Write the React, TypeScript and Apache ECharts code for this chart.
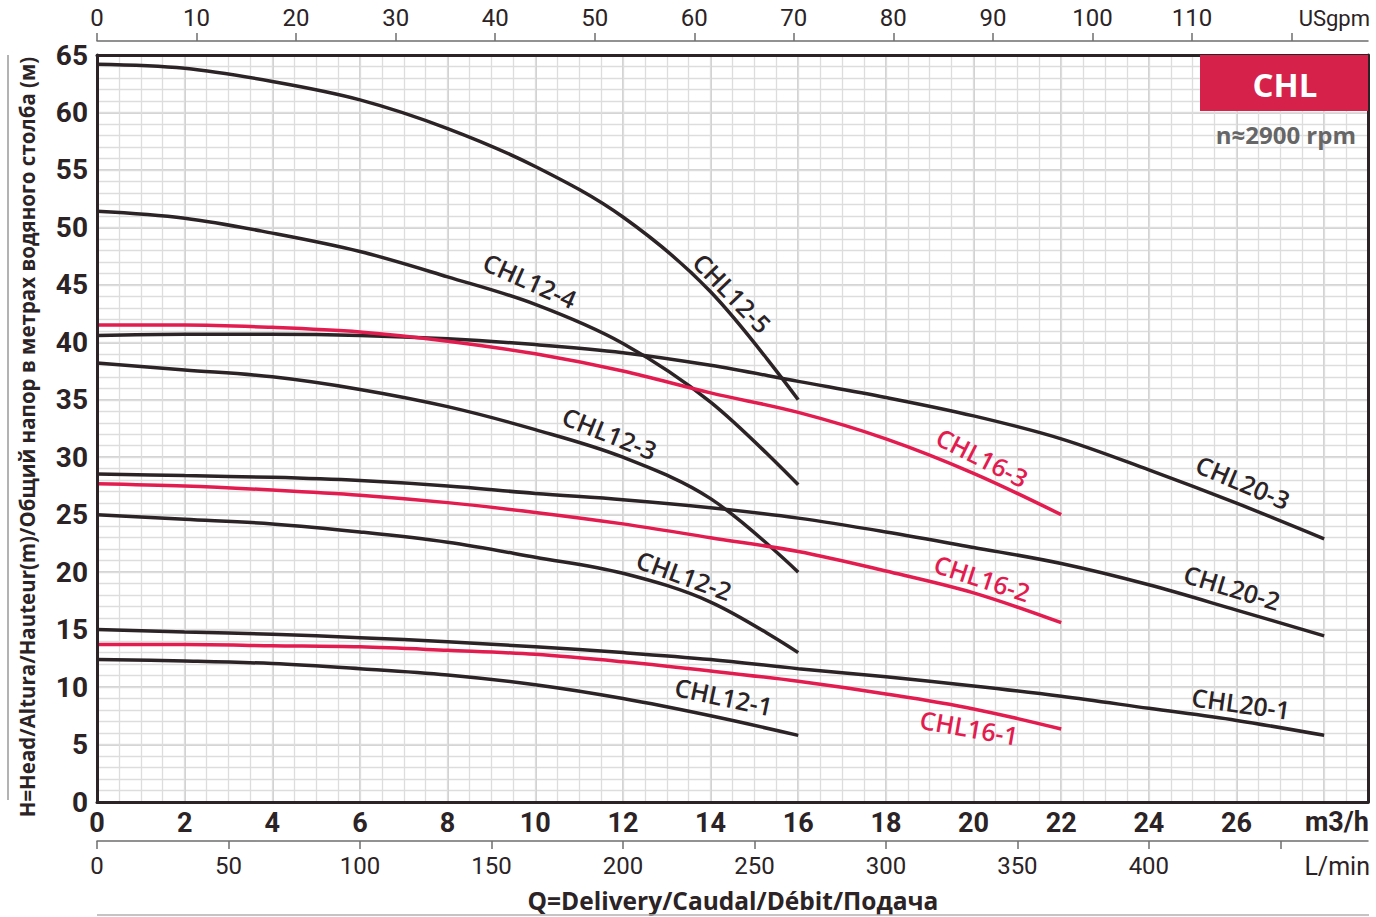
import React, { useEffect, useRef } from 'react';
import * as echarts from 'echarts';

// ---- data (flow in m3/h, head in m) ----
const Q_MAX = 29;
const H_MAX = 65;
const GPM_PER_M3H = 1 / 0.227125;
const LPM_PER_M3H = 1000 / 60;

const MAIN_X_LABELS = [0, 2, 4, 6, 8, 10, 12, 14, 16, 18, 20, 22, 24, 26];
const GPM_TICKS = [0, 10, 20, 30, 40, 50, 60, 70, 80, 90, 100, 110, 120];
const GPM_LABELS = [0, 10, 20, 30, 40, 50, 60, 70, 80, 90, 100, 110];
const LPM_TICKS = [0, 50, 100, 150, 200, 250, 300, 350, 400, 450];
const LPM_LABELS = [0, 50, 100, 150, 200, 250, 300, 350, 400];

const CHL12_Q = [0, 2, 4, 6, 8, 10, 12, 14, 16];
const CHL12_5_H = [64.2, 63.85, 62.7, 61.1, 58.6, 55.3, 50.9, 44.4, 35.0];
const CHL12_4_H = [51.4, 50.8, 49.5, 47.9, 45.7, 43.3, 39.9, 34.8, 27.6];
const CHL12_3_H = [38.2, 37.6, 37.0, 35.9, 34.4, 32.4, 30.0, 26.4, 20.0];
const CHL12_2_H = [25.0, 24.6, 24.2, 23.5, 22.6, 21.3, 19.9, 17.4, 13.0];
const CHL12_1_H = [12.4, 12.27, 12.05, 11.6, 11.05, 10.2, 9.0, 7.5, 5.8];

const CHL16_Q = [0, 2, 4, 6, 8, 10, 12, 14, 16, 18, 20, 22];
const CHL16_3_H = [41.5, 41.5, 41.3, 40.9, 40.1, 39.0, 37.5, 35.6, 33.9, 31.6, 28.6, 25.0];
const CHL16_2_H = [27.7, 27.5, 27.15, 26.7, 26.05, 25.2, 24.2, 23.0, 21.8, 20.1, 18.2, 15.6];
const CHL16_1_H = [13.7, 13.7, 13.6, 13.5, 13.2, 12.85, 12.2, 11.4, 10.5, 9.4, 8.1, 6.35];

const CHL20_Q = [0, 2, 4, 6, 8, 10, 12, 14, 16, 18, 20, 22, 24, 26, 28];
const CHL20_3_H = [40.6, 40.7, 40.7, 40.6, 40.3, 39.8, 39.1, 38.0, 36.6, 35.2, 33.6, 31.6, 28.9, 26.0, 22.9];
const CHL20_2_H = [28.55, 28.4, 28.25, 27.97, 27.5, 26.85, 26.3, 25.6, 24.7, 23.5, 22.15, 20.75, 18.9, 16.7, 14.45];
const CHL20_1_H = [15.0, 14.8, 14.6, 14.3, 13.95, 13.5, 13.0, 12.4, 11.6, 10.9, 10.1, 9.2, 8.15, 7.1, 5.8];

const DARK = '#2b2325';
const RED = '#e31c50';

const CURVES = [
  { name: 'CHL12-5', q: CHL12_Q, h: CHL12_5_H, color: DARK },
  { name: 'CHL12-4', q: CHL12_Q, h: CHL12_4_H, color: DARK },
  { name: 'CHL12-3', q: CHL12_Q, h: CHL12_3_H, color: DARK },
  { name: 'CHL12-2', q: CHL12_Q, h: CHL12_2_H, color: DARK },
  { name: 'CHL12-1', q: CHL12_Q, h: CHL12_1_H, color: DARK },
  { name: 'CHL20-3', q: CHL20_Q, h: CHL20_3_H, color: DARK },
  { name: 'CHL20-2', q: CHL20_Q, h: CHL20_2_H, color: DARK },
  { name: 'CHL20-1', q: CHL20_Q, h: CHL20_1_H, color: DARK },
  { name: 'CHL16-3', q: CHL16_Q, h: CHL16_3_H, color: RED },
  { name: 'CHL16-2', q: CHL16_Q, h: CHL16_2_H, color: RED },
  { name: 'CHL16-1', q: CHL16_Q, h: CHL16_1_H, color: RED },
];

// curve labels: anchor (q, h) in data units, angle in degrees (descending)
const LABELS = [
  { text: 'CHL12-4', q: 9.88, h: 45.4, angle: 24, color: DARK },
  { text: 'CHL12-5', q: 14.5, h: 44.3, angle: 46, color: DARK },
  { text: 'CHL12-3', q: 11.7, h: 32.1, angle: 22, color: DARK },
  { text: 'CHL12-2', q: 13.4, h: 19.75, angle: 20, color: DARK },
  { text: 'CHL12-1', q: 14.3, h: 9.2, angle: 12, color: DARK },
  { text: 'CHL16-3', q: 20.2, h: 30.0, angle: 27, color: RED },
  { text: 'CHL16-2', q: 20.2, h: 19.5, angle: 18, color: RED },
  { text: 'CHL16-1', q: 19.9, h: 6.5, angle: 10, color: RED },
  { text: 'CHL20-3', q: 26.15, h: 27.85, angle: 23, color: DARK },
  { text: 'CHL20-2', q: 25.9, h: 18.7, angle: 17, color: DARK },
  { text: 'CHL20-1', q: 26.1, h: 8.6, angle: 8, color: DARK },
];

const NUM = "Roboto, 'Open Sans', sans-serif";
const SANS = "'Open Sans', 'Noto Sans', sans-serif";

export default function App() {
  const ref = useRef<HTMLDivElement>(null);

  useEffect(() => {
    const el = ref.current as HTMLDivElement;
    const chart = echarts.init(el, null, { renderer: 'svg' });

    const hidden = {
      axisLine: { show: false, onZero: false },
      axisTick: { show: false },
      axisLabel: { show: false },
    };
    const xBase = { type: 'value', min: 0, max: Q_MAX, gridIndex: 0 };
    const yBase = { type: 'value', min: 0, max: H_MAX, gridIndex: 0 };

    const option: any = {
      animation: false,
      backgroundColor: '#ffffff',
      grid: { left: 97, right: 8, top: 55, bottom: 115, containLabel: false },
      xAxis: [
        {
          ...xBase,
          position: 'bottom',
          interval: 2,
          z: 3,
          axisLine: { show: true, onZero: false, lineStyle: { color: DARK, width: 3 } },
          axisTick: { show: false },
          splitLine: { show: false },
          axisLabel: {
            customValues: MAIN_X_LABELS,
            fontFamily: NUM,
            fontWeight: 'bold',
            fontSize: 27,
            color: DARK,
            margin: 7,
          },
        },
        {
          ...xBase,
          position: 'top',
          z: 3,
          axisLine: { show: true, onZero: false, lineStyle: { color: DARK, width: 3 } },
          axisTick: { show: false },
          axisLabel: { show: false },
          splitLine: { show: false },
        },
        {
          ...xBase,
          position: 'bottom',
          interval: 2,
          z: 0,
          ...hidden,
          splitLine: { show: true, lineStyle: { color: '#d2d2d2', width: 2 } },
        },
        {
          ...xBase,
          position: 'bottom',
          interval: 0.5,
          z: 0,
          ...hidden,
          splitLine: { show: true, lineStyle: { color: '#dddddd', width: 1.3 } },
        },
        {
          type: 'value',
          gridIndex: 0,
          position: 'top',
          offset: 14,
          min: 0,
          max: Q_MAX * GPM_PER_M3H,
          interval: 10,
          z: 3,
          axisLine: { show: true, onZero: false, lineStyle: { color: '#6e6e6e', width: 1.5 } },
          axisTick: { show: true, customValues: GPM_TICKS, length: 8, lineStyle: { color: '#6e6e6e', width: 1.5 } },
          axisLabel: { customValues: GPM_LABELS, fontFamily: NUM, fontSize: 24, color: DARK, margin: 11 },
          splitLine: { show: false },
        },
        {
          type: 'value',
          gridIndex: 0,
          position: 'bottom',
          offset: 39,
          min: 0,
          max: Q_MAX * LPM_PER_M3H,
          interval: 50,
          z: 3,
          axisLine: { show: true, onZero: false, lineStyle: { color: '#6e6e6e', width: 1.5 } },
          axisTick: { show: true, customValues: LPM_TICKS, length: 8, lineStyle: { color: '#6e6e6e', width: 1.5 } },
          axisLabel: { customValues: LPM_LABELS, fontFamily: NUM, fontSize: 24, color: DARK, margin: 13 },
          splitLine: { show: false },
        },
      ],
      yAxis: [
        {
          ...yBase,
          position: 'left',
          interval: 5,
          z: 3,
          axisLine: { show: true, onZero: false, lineStyle: { color: DARK, width: 3 } },
          axisTick: { show: false },
          splitLine: { show: false },
          axisLabel: { fontFamily: NUM, fontWeight: 'bold', fontSize: 28, color: DARK, margin: 9 },
        },
        {
          ...yBase,
          position: 'right',
          z: 3,
          axisLine: { show: true, onZero: false, lineStyle: { color: DARK, width: 3 } },
          axisTick: { show: false },
          axisLabel: { show: false },
          splitLine: { show: false },
        },
        {
          ...yBase,
          position: 'left',
          interval: 5,
          z: 0,
          ...hidden,
          splitLine: { show: true, lineStyle: { color: '#d2d2d2', width: 2 } },
        },
        {
          ...yBase,
          position: 'left',
          interval: 1,
          z: 0,
          ...hidden,
          splitLine: { show: true, lineStyle: { color: '#dddddd', width: 1.3 } },
        },
      ],
      series: CURVES.map((c) => ({
        name: c.name,
        type: 'line',
        xAxisIndex: 0,
        yAxisIndex: 0,
        data: c.q.map((q, i) => [q, c.h[i]]),
        smooth: 0.35,
        showSymbol: false,
        silent: true,
        z: 2,
        lineStyle: { color: c.color, width: 3.5, cap: 'butt' },
      })),
    };

    chart.setOption(option);

    const labelGraphics = LABELS.map((l) => {
      const p = chart.convertToPixel({ seriesIndex: 0 }, [l.q, l.h]) as number[];
      return {
        type: 'text',
        x: p[0],
        y: p[1],
        rotation: (-l.angle * Math.PI) / 180,
        z: 10,
        silent: true,
        style: {
          text: l.text,
          fill: l.color,
          font: `600 25px ${SANS}`,
          align: 'center',
          verticalAlign: 'middle',
        },
      };
    });

    const staticGraphics: any[] = [
      {
        type: 'rect',
        shape: { x: 1200, y: 55, width: 168, height: 56 },
        style: { fill: '#d6224a' },
        z: 4,
        silent: true,
      },
      {
        type: 'text',
        x: 1285,
        y: 84,
        z: 11,
        style: { text: 'CHL', fill: '#ffffff', font: `bold 33px ${SANS}`, align: 'center', verticalAlign: 'middle' },
      },
      {
        type: 'text',
        x: 1356,
        y: 134,
        z: 11,
        style: { text: 'n≈2900 rpm', fill: '#666666', font: `bold 24px ${SANS}`, align: 'right', verticalAlign: 'middle' },
      },
      {
        type: 'text',
        x: 1370,
        y: 18,
        z: 11,
        style: { text: 'USgpm', fill: DARK, font: `22px ${NUM}`, align: 'right', verticalAlign: 'middle' },
      },
      {
        type: 'text',
        x: 1369,
        y: 822,
        z: 11,
        style: { text: 'm3/h', fill: DARK, font: `bold 27px ${NUM}`, align: 'right', verticalAlign: 'middle' },
      },
      {
        type: 'text',
        x: 1370,
        y: 866,
        z: 11,
        style: { text: 'L/min', fill: DARK, font: `25px ${NUM}`, align: 'right', verticalAlign: 'middle' },
      },
      {
        type: 'text',
        x: 27,
        y: 437,
        rotation: Math.PI / 2,
        z: 11,
        style: {
          text: 'H=Head/Altura/Hauteur(m)/Общий напор в метрах водяного столба (м)',
          fill: DARK,
          font: `bold 20.5px ${SANS}`,
          align: 'center',
          verticalAlign: 'middle',
        },
      },
      {
        type: 'text',
        x: 733,
        y: 900,
        z: 11,
        style: {
          text: 'Q=Delivery/Caudal/Débit/Подача',
          fill: DARK,
          font: `bold 24.5px ${SANS}`,
          align: 'center',
          verticalAlign: 'middle',
        },
      },
      {
        type: 'line',
        shape: { x1: 8, y1: 55, x2: 8, y2: 800 },
        style: { stroke: '#9a9a9a', lineWidth: 1.5 },
        z: 11,
      },
      {
        type: 'line',
        shape: { x1: 97, y1: 915, x2: 1369, y2: 915 },
        style: { stroke: '#b0b0b0', lineWidth: 1.5 },
        z: 11,
      },
    ];

    chart.setOption({ graphic: [...staticGraphics, ...labelGraphics] });

    return () => {
      chart.dispose();
    };
  }, []);

  return (
    <div
      ref={ref}
      style={{ position: 'fixed', left: 0, top: 0, width: 1376, height: 917, background: '#fff' }}
    />
  );
}
